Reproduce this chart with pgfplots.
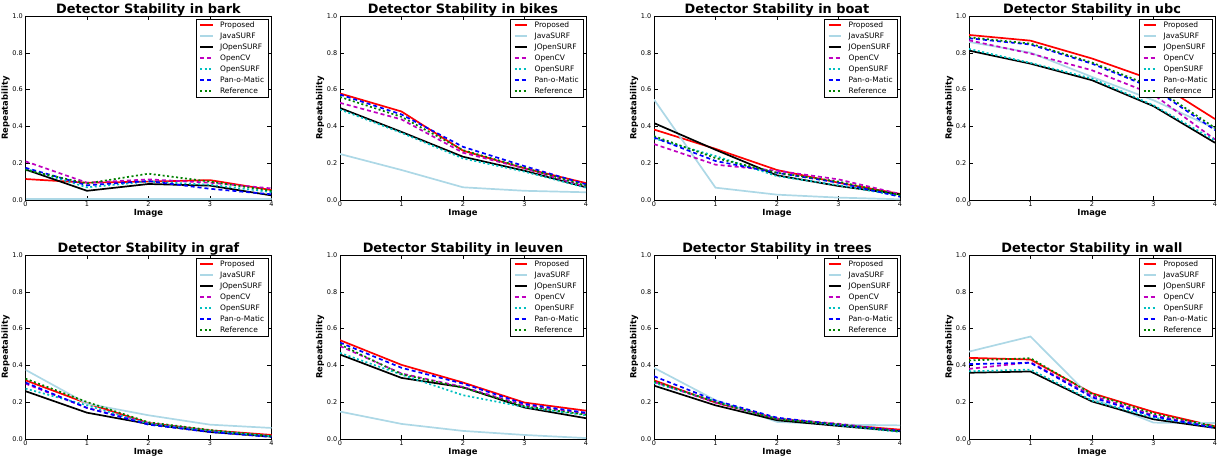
\documentclass[border=0pt]{standalone}
\usepackage{fontspec}
\setmainfont{DejaVu Sans}
\usepackage{pgfplots}
\usepackage{pgfplotstable}
\pgfplotsset{compat=1.18}

\definecolor{mplr}{rgb}{1,0,0}
\definecolor{mpllb}{HTML}{ADD8E6}
\definecolor{mplm}{rgb}{0.75,0,0.75}
\definecolor{mplc}{rgb}{0,0.75,0.75}
\definecolor{mplb}{rgb}{0,0,1}
\definecolor{mplg}{rgb}{0,0.5,0}

% columns: image, Proposed, JavaSURF, JOpenSURF, OpenCV, OpenSURF, Pan-o-Matic, Reference
\pgfplotstableread{
x P     J     JO    CV    OS    PM    R
0 0.114 0.004 0.166 0.210 0.170 0.175 0.163
1 0.094 0.004 0.050 0.094 0.069 0.080 0.090
2 0.100 0.004 0.087 0.112 0.100 0.103 0.143
3 0.108 0.004 0.078 0.094 0.083 0.061 0.100
4 0.054 0.004 0.025 0.063 0.043 0.031 0.050
}\bark
\pgfplotstableread{
x P     J     JO    CV    OS    PM    R
0 0.579 0.250 0.500 0.528 0.492 0.573 0.560
1 0.481 0.163 0.370 0.438 0.365 0.465 0.452
2 0.268 0.069 0.235 0.257 0.226 0.289 0.271
3 0.172 0.050 0.159 0.172 0.154 0.184 0.175
4 0.092 0.042 0.069 0.072 0.067 0.085 0.078
}\bikes
\pgfplotstableread{
x P     J     JO    CV    OS    PM    R
0 0.383 0.546 0.418 0.304 0.335 0.340 0.347
1 0.278 0.067 0.273 0.192 0.239 0.212 0.228
2 0.163 0.029 0.134 0.159 0.130 0.148 0.148
3 0.094 0.013 0.076 0.112 0.080 0.094 0.100
4 0.033 0.004 0.031 0.033 0.022 0.018 0.027
}\boat
\pgfplotstableread{
x P     J     JO    CV    OS    PM    R
0 0.897 0.859 0.812 0.868 0.821 0.879 0.884
1 0.866 0.801 0.741 0.796 0.745 0.845 0.850
2 0.769 0.669 0.651 0.705 0.660 0.741 0.747
3 0.651 0.542 0.510 0.573 0.515 0.606 0.615
4 0.440 0.389 0.311 0.329 0.324 0.380 0.392
}\ubc
\pgfplotstableread{
x P     J     JO    CV    OS    PM    R
0 0.319 0.376 0.260 0.301 0.274 0.307 0.328
1 0.194 0.192 0.143 0.169 0.183 0.169 0.201
2 0.087 0.129 0.082 0.087 0.083 0.078 0.091
3 0.047 0.078 0.038 0.044 0.044 0.038 0.049
4 0.022 0.060 0.013 0.016 0.015 0.011 0.016
}\graf
\pgfplotstableread{
x P     J     JO    CV    OS    PM    R
0 0.537 0.149 0.459 0.505 0.468 0.524 0.514
1 0.403 0.082 0.332 0.356 0.350 0.387 0.352
2 0.307 0.044 0.281 0.283 0.238 0.301 0.279
3 0.198 0.022 0.171 0.183 0.174 0.191 0.178
4 0.154 0.005 0.113 0.138 0.129 0.143 0.132
}\leuven
\pgfplotstableread{
x P     J     JO    CV    OS    PM    R
0 0.319 0.387 0.290 0.310 0.305 0.341 0.314
1 0.198 0.211 0.183 0.198 0.205 0.209 0.201
2 0.111 0.093 0.102 0.111 0.111 0.116 0.107
3 0.078 0.078 0.071 0.083 0.074 0.078 0.080
4 0.051 0.074 0.042 0.044 0.038 0.044 0.042
}\trees
\pgfplotstableread{
x P     J     JO    CV    OS    PM    R
0 0.441 0.475 0.360 0.381 0.368 0.407 0.427
1 0.432 0.557 0.367 0.417 0.377 0.414 0.439
2 0.249 0.221 0.204 0.236 0.209 0.227 0.245
3 0.147 0.089 0.107 0.129 0.116 0.123 0.138
4 0.069 0.087 0.060 0.065 0.065 0.060 0.069
}\wall

\pgfplotsset{
  panel/.style={
    scale only axis, width=246pt, height=184pt, anchor=south west,
    xmin=0, xmax=4, ymin=0, ymax=1,
    xtick={0,1,2,3,4}, ytick={0,0.2,0.4,0.6,0.8,1.0},
    yticklabel style={/pgf/number format/fixed, /pgf/number format/fixed zerofill,
                      /pgf/number format/precision=1},
    /pgf/number format/assume math mode=true,
    tick label style={font=\fontsize{6.5}{7}\selectfont, inner sep=1.5pt},
    yticklabel style={xshift=-1pt},
    tick align=inside, major tick length=4pt,
    tick style={black, line width=0.5pt},
    axis line style={black, line width=0.9pt},
    every axis title shift=0pt,
    title style={font=\fontsize{12.9}{14}\selectfont\bfseries, inner sep=0pt},
    xlabel={Image}, ylabel={Repeatability},
    label style={font=\fontsize{8.4}{9}\selectfont\bfseries},
    xlabel style={at={(axis description cs:0.5,0)}, anchor=north, inner sep=0pt, yshift=-9.5pt},
    ylabel style={at={(axis description cs:0,0.5)}, anchor=south, inner sep=0pt, yshift=15.5pt},
    legend style={at={(0.99,0.984)}, anchor=north east, draw=black, line width=0.8pt,
                  fill=white, font=\fontsize{7.5}{8}\selectfont,
                  inner xsep=3pt, inner ysep=0.8pt, row sep=0.7pt, column sep=5pt,
                  nodes={inner xsep=1.5pt, inner ysep=1.5pt, text height=5.7pt, text depth=1.6pt}},
    legend cell align=left,
    legend image code/.code={\draw[#1, line width=1.8pt] (0pt,0pt) -- (12.7pt,0pt);},
  },
  Prop/.style={mplr, line width=1.7pt},
  Java/.style={mpllb, line width=1.7pt},
  JOS/.style={black, line width=1.7pt},
  OCV/.style={mplm, line width=1.7pt, dash pattern=on 4pt off 3pt},
  OSU/.style={mplc, line width=1.7pt, dash pattern=on 2pt off 2.5pt},
  PAN/.style={mplb, line width=1.7pt, dash pattern=on 4pt off 3pt},
  REF/.style={mplg, line width=1.7pt, dash pattern=on 2pt off 2.5pt},
}

\newcommand{\panel}[4]{%
\begin{axis}[panel, at={(#3pt,#4pt)}, title={Detector Stability in #2}]
\addplot[Prop] table[x=x, y=P]{#1}; \addlegendentry{Proposed}
\addplot[Java] table[x=x, y=J]{#1}; \addlegendentry{JavaSURF}
\addplot[JOS]  table[x=x, y=JO]{#1}; \addlegendentry{JOpenSURF}
\addplot[OCV]  table[x=x, y=CV]{#1}; \addlegendentry{OpenCV}
\addplot[OSU]  table[x=x, y=OS]{#1}; \addlegendentry{OpenSURF}
\addplot[PAN]  table[x=x, y=PM]{#1}; \addlegendentry{Pan-o-Matic}
\addplot[REF]  table[x=x, y=R]{#1}; \addlegendentry{Reference}
\end{axis}}

\begin{document}
\begin{tikzpicture}
\useasboundingbox (0,0) rectangle (1225pt,464pt);
\panel{\bark}{bark}{25.5}{264}
\panel{\bikes}{bikes}{340}{264}
\panel{\boat}{boat}{654}{264}
\panel{\ubc}{ubc}{969}{264}
\panel{\graf}{graf}{25.5}{25}
\panel{\leuven}{leuven}{340}{25}
\panel{\trees}{trees}{654}{25}
\panel{\wall}{wall}{969}{25}
\end{tikzpicture}
\end{document}
